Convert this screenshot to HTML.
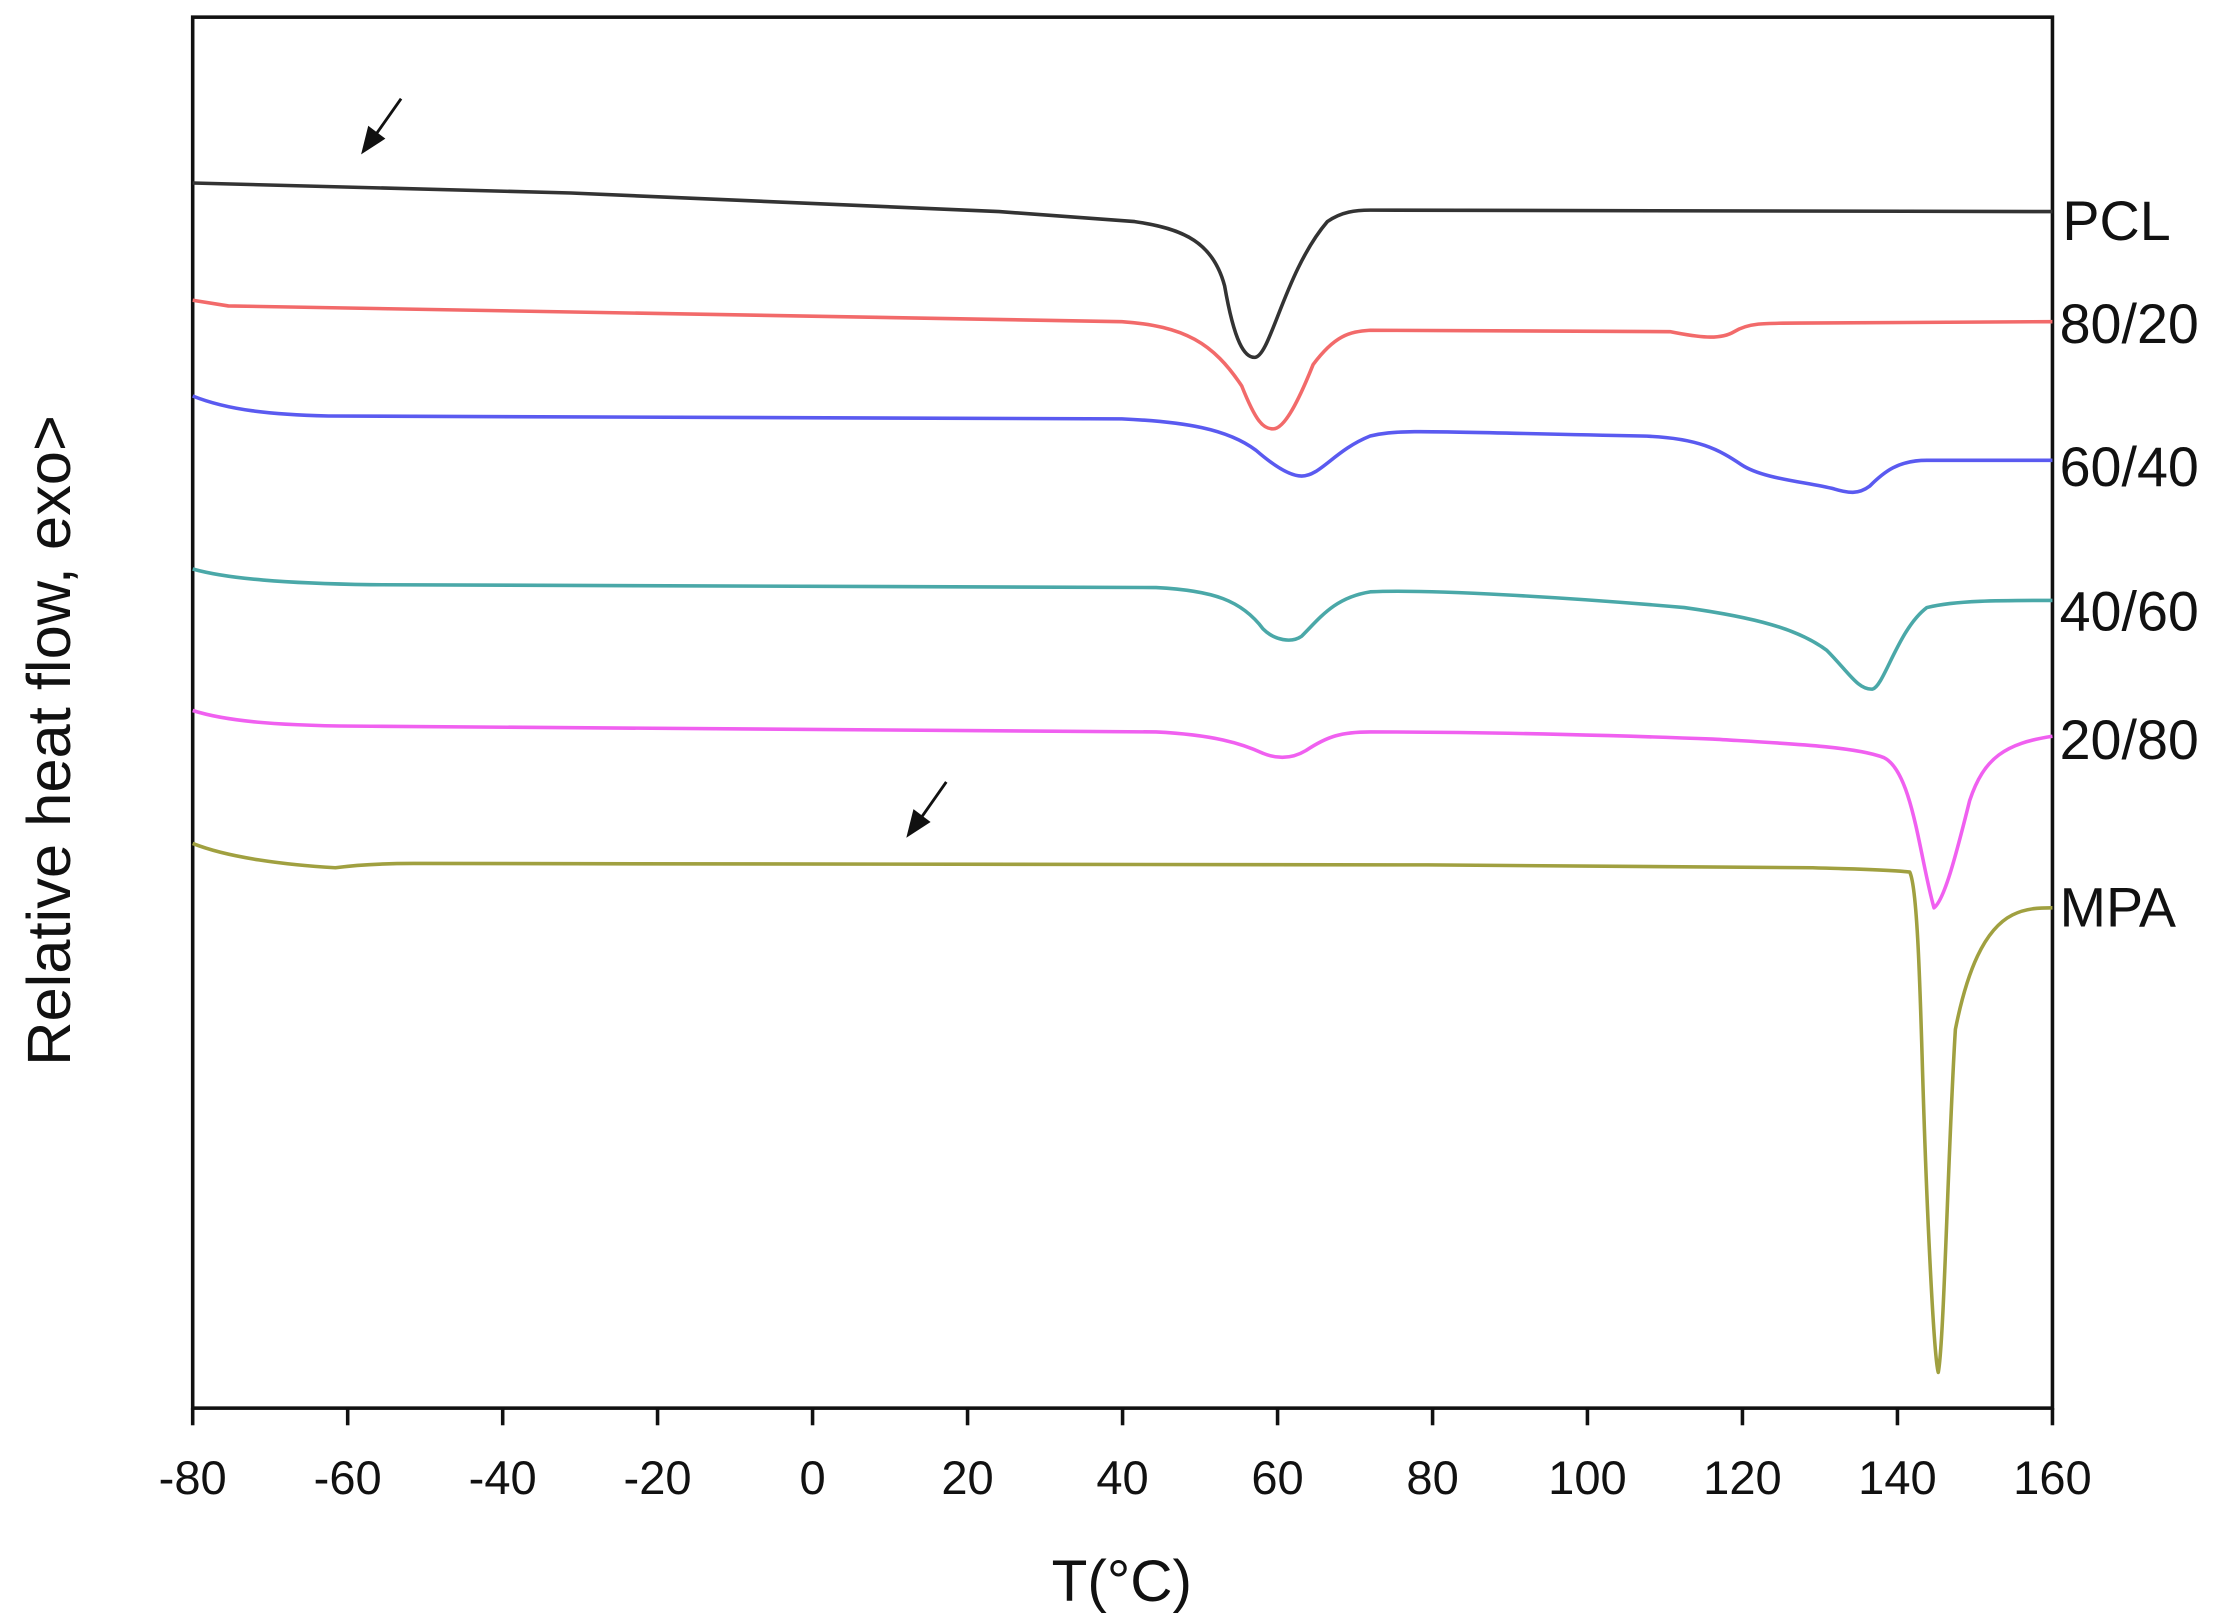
<!DOCTYPE html>
<html><head><meta charset="utf-8"><style>
html,body{margin:0;padding:0;background:#fff;}
svg{display:block;}
text{font-family:"Liberation Sans",Arial,sans-serif;fill:#111;}
</style></head><body>
<svg width="2238" height="1624" viewBox="0 0 1568 1136" preserveAspectRatio="none" xmlns="http://www.w3.org/2000/svg">
<rect width="1568" height="1136" fill="#fff"/>
<rect x="135" y="12" width="1303" height="973" fill="none" stroke="#111" stroke-width="2.5"/>
<g stroke="#111" stroke-width="2.5">
<line x1="135" y1="985" x2="135" y2="997"/><line x1="243.6" y1="985" x2="243.6" y2="997"/>
<line x1="352.2" y1="985" x2="352.2" y2="997"/><line x1="460.7" y1="985" x2="460.7" y2="997"/>
<line x1="569.3" y1="985" x2="569.3" y2="997"/><line x1="677.9" y1="985" x2="677.9" y2="997"/>
<line x1="786.5" y1="985" x2="786.5" y2="997"/><line x1="895.1" y1="985" x2="895.1" y2="997"/>
<line x1="1003.7" y1="985" x2="1003.7" y2="997"/><line x1="1112.2" y1="985" x2="1112.2" y2="997"/>
<line x1="1220.8" y1="985" x2="1220.8" y2="997"/><line x1="1329.4" y1="985" x2="1329.4" y2="997"/>
<line x1="1438" y1="985" x2="1438" y2="997"/>
</g>
<g font-size="33" text-anchor="middle">
<text x="135" y="1045">-80</text><text x="243.6" y="1045">-60</text><text x="352.2" y="1045">-40</text>
<text x="460.7" y="1045">-20</text><text x="569.3" y="1045">0</text><text x="677.9" y="1045">20</text>
<text x="786.5" y="1045">40</text><text x="895.1" y="1045">60</text><text x="1003.7" y="1045">80</text>
<text x="1112.2" y="1045">100</text><text x="1220.8" y="1045">120</text><text x="1329.4" y="1045">140</text>
<text x="1438" y="1045">160</text>
</g>
<text x="786" y="1120" font-size="41" text-anchor="middle">T(°C)</text>
<text transform="translate(49,518) rotate(-90)" font-size="43" text-anchor="middle">Relative heat flow, exo&gt;</text>
<g fill="none" stroke-width="2.5" stroke-linejoin="round">
<path stroke="#333" d="M135,128 L400,135 L700,148 L795,155 C830,160 850,170 858,200 C865,240 872,250 879,250 C890,250 900,190 930,155 C940,148 950,147 960,147 L1438,148"/>
<path stroke="#f26a6a" d="M135,210 L160,214 L786,225 C830,228 850,240 870,270 C880,295 885,300 892,300 C900,300 910,280 920,255 C935,235 945,232 960,231 L1170,232 C1190,236 1205,238 1215,232 C1225,226 1235,226 1260,226 L1438,225"/>
<path stroke="#5a5af0" d="M135,277 C160,287 190,290 230,291 L786,293 C830,295 860,300 880,315 C895,328 905,333 912,333 C925,333 935,315 960,305 C980,300 1000,302 1150,305 C1190,306 1205,315 1220,325 C1235,335 1265,337 1285,342 C1295,345 1302,346 1310,340 C1320,330 1330,322 1350,322 L1438,322"/>
<path stroke="#4aa8a8" d="M135,398 C160,405 200,408 260,409 L810,411 C850,413 870,420 885,440 C893,448 905,450 912,445 C925,432 935,418 960,414 C1000,412 1100,418 1180,425 C1230,432 1260,440 1280,455 C1295,470 1302,483 1312,482 C1320,480 1330,440 1350,425 C1370,420 1400,420 1438,420"/>
<path stroke="#f060f0" d="M135,497 C160,505 200,508 260,508 L810,512 C850,514 870,520 885,527 C895,531 905,531 915,525 C930,515 940,512 960,512 C1050,512 1150,515 1200,517 C1250,520 1300,522 1320,530 C1340,540 1345,600 1355,635 C1362,630 1370,600 1380,560 C1390,530 1405,520 1438,515"/>
<path stroke="#a0a040" d="M135,590 C160,600 200,605 235,607 C250,605 270,604 290,604 L1000,605 L1270,607 C1300,608 1320,608 1338,610 C1343,620 1345,680 1347,750 C1350,850 1355,950 1358,960 C1362,940 1365,800 1370,720 C1378,680 1390,650 1410,640 C1420,635 1430,635 1438,635"/>
</g>
<g stroke="#111" stroke-width="2">
<line x1="281" y1="69" x2="262" y2="96"/><line x1="663" y1="547" x2="644" y2="574"/>
</g>
<polygon points="253,108 258,88 270,97" fill="#111"/>
<polygon points="635,586 640,566 652,575" fill="#111"/>
<g font-size="39">
<text x="1445" y="168">PCL</text><text x="1443" y="240">80/20</text><text x="1443" y="340">60/40</text>
<text x="1443" y="441">40/60</text><text x="1443" y="531">20/80</text><text x="1443" y="648">MPA</text>
</g>
</svg>
</body></html>
